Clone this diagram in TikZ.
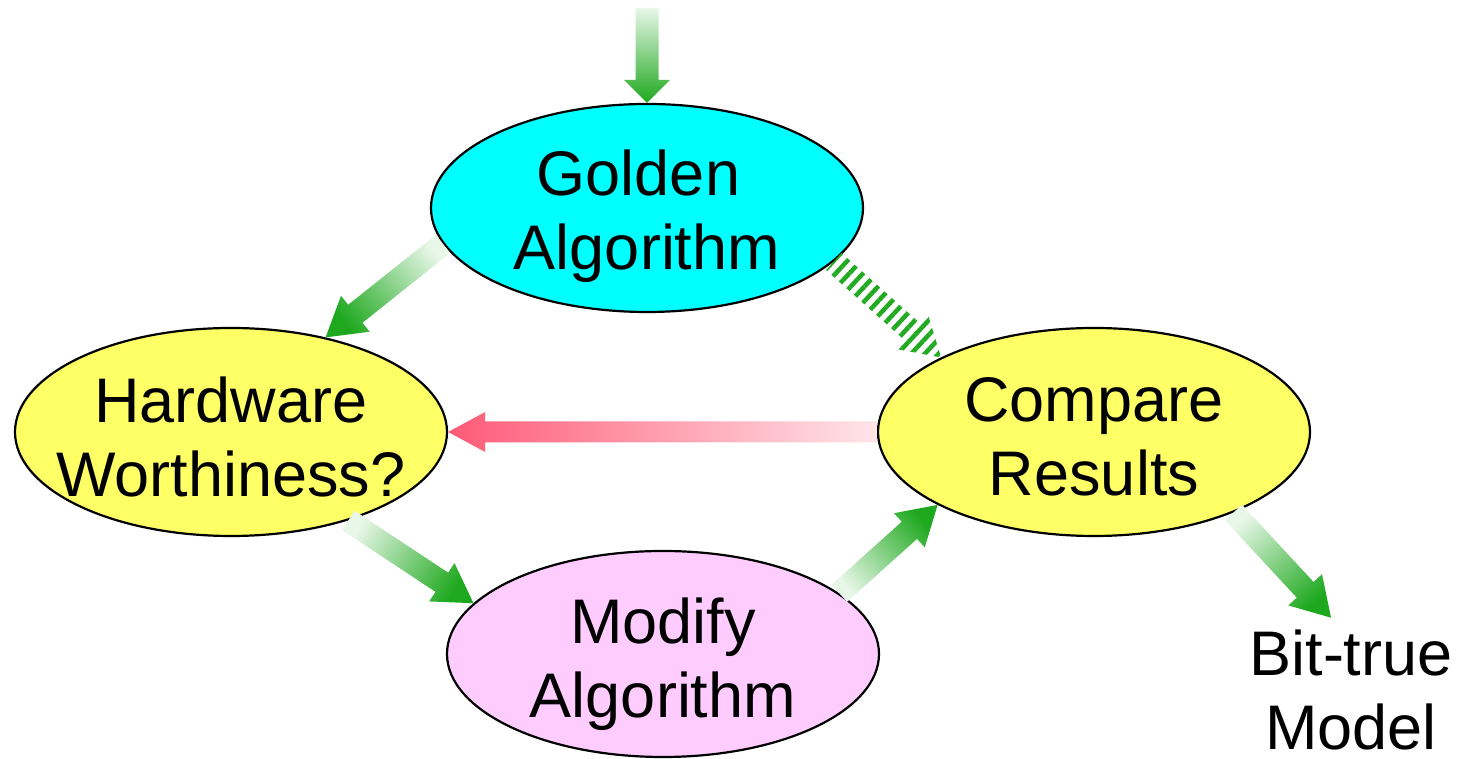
\documentclass[tikz,border=0pt]{standalone}
\usepackage{fontspec}
\setmainfont{Liberation Sans}
\usetikzlibrary{shapes.geometric,calc,patterns.meta}
\definecolor{goldfill}{RGB}{0,255,255}
\definecolor{yellowfill}{RGB}{255,255,102}
\definecolor{pinkfill}{RGB}{255,204,255}
\definecolor{glight}{RGB}{232,247,232}
\definecolor{gdark}{RGB}{30,168,30}
\definecolor{rlight}{RGB}{255,228,233}
\definecolor{rdark}{RGB}{255,90,118}
\definecolor{hatchgreen}{RGB}{34,170,34}
% Block arrow from #2 to #3: #1 fill options, #4 half shaft width,
% #5 half head width, #6 head length
\newcommand\blockarrow[6]{%
  \path let \p1=(#2), \p2=(#3), \n1={atan2(\y2-\y1,\x2-\x1)} in
    \pgfextra{\pgfmathsetmacro\arrowdir{\n1}\global\let\arrowdir\arrowdir
              \pgfmathsetmacro\arrowshade{\n1-90}\global\let\arrowshade\arrowshade};
  \path[#1] let \p1=(#2), \p2=(#3) in
    ($(\p1)+(\arrowdir+90:#4)$)
    -- ($(\p2)+(\arrowdir+180:#6)+(\arrowdir+90:#4)$)
    -- ($(\p2)+(\arrowdir+180:#6)+(\arrowdir+90:#5)$)
    -- (\p2)
    -- ($(\p2)+(\arrowdir+180:#6)+(\arrowdir-90:#5)$)
    -- ($(\p2)+(\arrowdir+180:#6)+(\arrowdir-90:#4)$)
    -- ($(\p1)+(\arrowdir-90:#4)$) -- cycle;
}
\begin{document}
\begin{tikzpicture}[x=1pt,y=1pt,
  bubble/.style={ellipse, draw=black, line width=2.2pt, minimum width=432pt,
    minimum height=208pt, inner sep=0pt},
  caption/.style={font=\fontsize{63}{74}\selectfont, align=center, inner sep=0pt},
  greenflow/.style={top color=gdark, bottom color=glight, shading angle=\arrowshade},
  redflow/.style={top color=rdark, bottom color=rlight, shading angle=\arrowshade},
  hatchflow/.style={pattern={Lines[angle=47,distance=10pt,line width=4.5pt]},
    pattern color=hatchgreen},
]
\useasboundingbox (0,0) rectangle (1462,759);

% ellipses
\node[bubble, fill=goldfill, label={[caption, yshift=-8pt]center:Golden\kern17pt\\Algorithm}] (gold) at (647,551) {};
\node[bubble, fill=yellowfill, label={[caption, yshift=-4.5pt]center:Hardware\\Worthiness?}] (hw) at (231,327) {};
\node[bubble, fill=yellowfill, label={[caption, yshift=-4.5pt]center:Compare\\Results}] (cmp) at (1094,327) {};
\node[bubble, fill=pinkfill, minimum height=206pt, label={[caption, yshift=-10pt]center:Modify\\Algorithm}] (mod) at (663,105) {};
\node[caption] (bit) at (1351,69) {Bit-true\\Model};

\coordinate (entry) at (647,751);
\coordinate (bitin) at ($(bit.north)+(-20,12)$);

% connectors
\blockarrow{greenflow}{entry}{gold.north}{11.5pt}{23pt}{23pt}
\blockarrow{greenflow}{gold.190}{hw.45}{11.5pt}{23pt}{38pt}
\blockarrow{greenflow}{hw.323}{mod.165}{11.5pt}{23pt}{38pt}
\blockarrow{greenflow}{mod.19}{cmp.205}{11.5pt}{23pt}{38pt}
\blockarrow{greenflow}{cmp.330}{bitin}{11.5pt}{23pt}{38pt}
\blockarrow{redflow}{cmp.west}{hw.east}{10.5pt}{20pt}{37pt}
\blockarrow{hatchflow}{gold.344}{cmp.154}{11.5pt}{23pt}{38pt}
\end{tikzpicture}
\end{document}
